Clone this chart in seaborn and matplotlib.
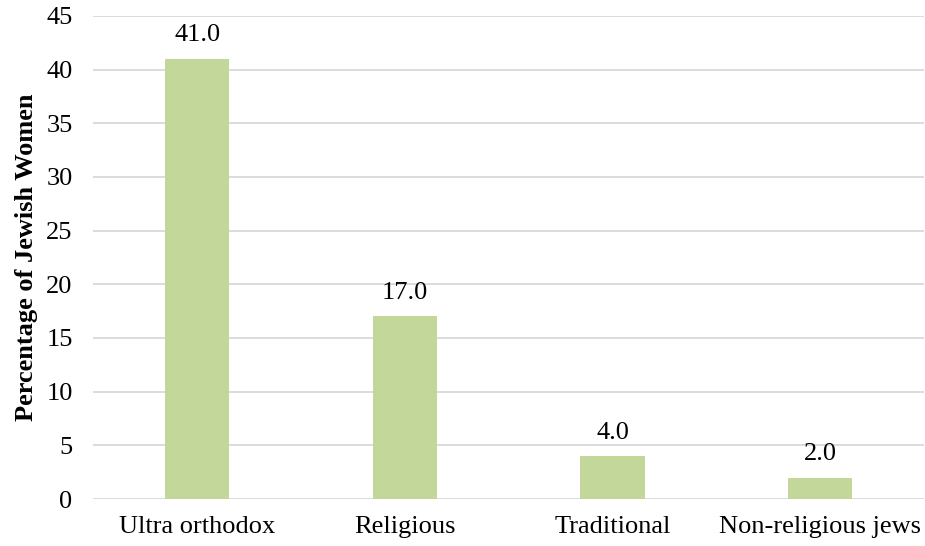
import matplotlib
matplotlib.use("Agg")
import matplotlib.pyplot as plt
import seaborn as sns
import pandas as pd

categories = ["Ultra orthodox", "Religious", "Traditional", "Non-religious jews"]
values = [41.0, 17.0, 4.0, 2.0]
yticks = [0, 5, 10, 15, 20, 25, 30, 35, 40, 45]

sns.set_theme(style="white")
plt.rcParams["font.family"] = ["Liberation Serif", "DejaVu Serif"]
plt.rcParams["text.color"] = "black"
plt.rcParams["axes.labelcolor"] = "black"
plt.rcParams["xtick.color"] = "black"
plt.rcParams["ytick.color"] = "black"

df = pd.DataFrame({"Category": categories, "Value": values})

fig = plt.figure(figsize=(9.25, 5.46), dpi=100)
ax = fig.add_axes([0.101, 0.086, 0.898, 0.885])

sns.barplot(data=df, x="Category", y="Value", color="#C4D79B", width=0.31,
            saturation=1, linewidth=0, ax=ax, zorder=3)

fs = 19
ax.set_ylim(0, 45)
ax.set_yticks(yticks)
ax.set_yticklabels([str(t) for t in yticks], fontsize=fs)
ax.set_xlim(-0.5, len(categories) - 0.5)
ax.tick_params(axis="x", labelsize=fs, length=0, pad=12)
ax.tick_params(axis="y", length=0, pad=15)
ax.yaxis.grid(True, color="#D9D9D9", linewidth=1.3, zorder=0)
ax.set_axisbelow(True)
for s in ax.spines.values():
    s.set_visible(False)

ax.set_xlabel("")
ax.set_ylabel("Percentage of Jewish Women", fontsize=fs, fontweight="bold", labelpad=6)

for i, v in enumerate(values):
    ax.annotate(f"{v:.1f}", xy=(i, v), xytext=(0, 9), textcoords="offset points",
                ha="center", va="bottom", fontsize=fs)

fig.savefig("out.png", dpi=100)
